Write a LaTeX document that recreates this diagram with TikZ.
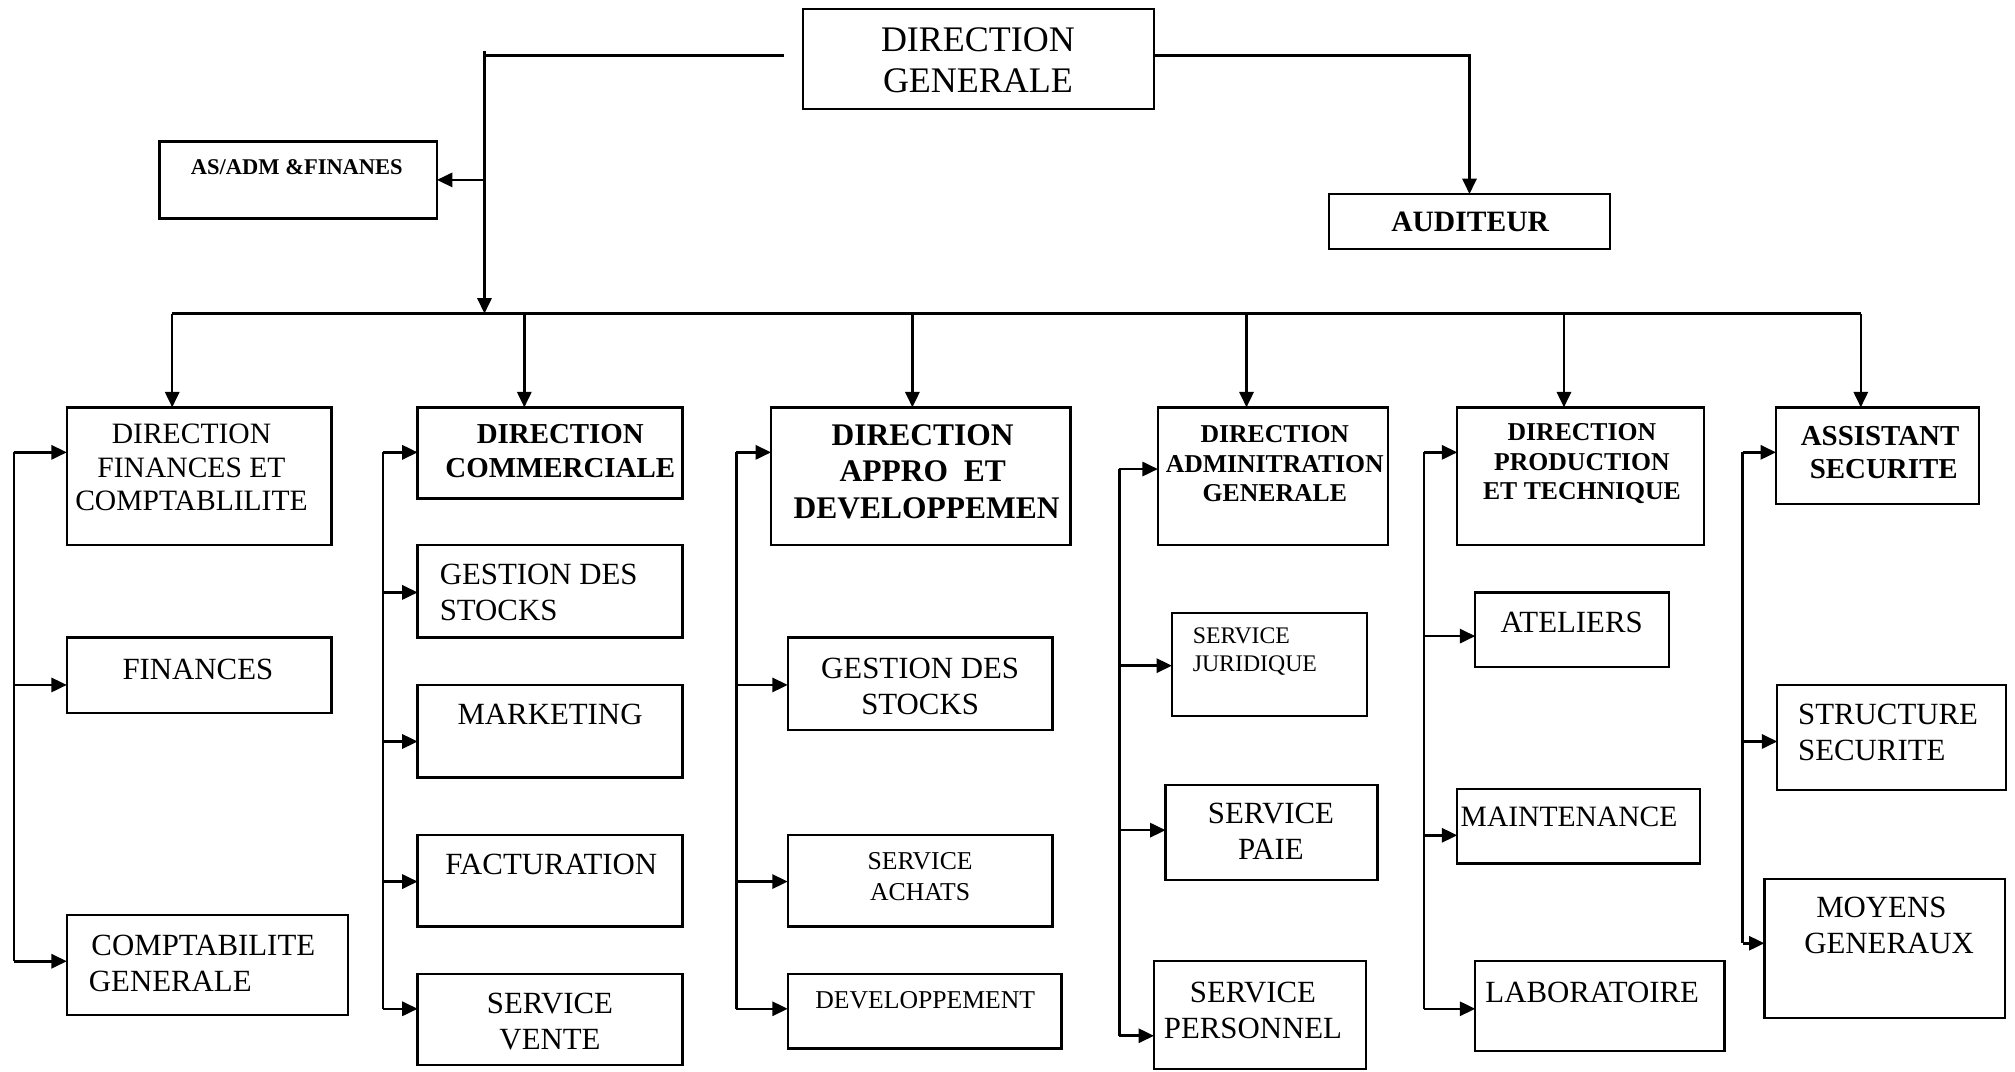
\documentclass[tikz,border=0pt]{standalone}
\usepackage{fontspec}
\setmainfont{Liberation Serif}
\usetikzlibrary{arrows.meta}

% rectangle node given by its top-left and bottom-right corners
\newcommand{\orgbox}[5]{%
  \node[box, minimum width={(#4-#2)*1pt}, minimum height={(#5-#3)*1pt},
        anchor=north west] (#1) at (#2,#3) {};}

\begin{document}
\begin{tikzpicture}[x=1pt,y=-1pt,
  box/.style={draw, line width=1.8pt, inner sep=0pt, outer sep=0pt},
  ln/.style={line width=2pt},
  arr/.style={line width=2pt, -{Triangle[length=12pt,width=11pt]}},
  txt/.style={inner sep=0pt, align=center},
  ltxt/.style={inner sep=0pt, align=left, anchor=west},
  r28/.style={font=\fontsize{28}{32}\selectfont},
  r24/.style={font=\fontsize{24}{28}\selectfont},
  r23/.style={font=\fontsize{23}{26}\selectfont},
  r20/.style={font=\fontsize{20}{24}\selectfont},
  r18/.style={font=\fontsize{18.5}{22}\selectfont},
  b17/.style={font=\fontsize{17.5}{20}\selectfont\bfseries},
  b20/.style={font=\fontsize{20}{23}\selectfont\bfseries},
  b22/.style={font=\fontsize{22.5}{26}\selectfont\bfseries},
  b23/.style={font=\fontsize{23}{26}\selectfont\bfseries},
  b24/.style={font=\fontsize{24.5}{28.5}\selectfont\bfseries},
]
\useasboundingbox (0,0) rectangle (1568,834);
\fill[white] (0,0) rectangle (1568,834);

% ---------- boxes ----------
\orgbox{dg}{625}{7}{898}{85}
\orgbox{asadm}{124}{110}{340}{170}
\orgbox{aud}{1034}{151}{1253}{194}

\orgbox{c1a}{52}{317}{258}{424}
\orgbox{c1b}{52}{496}{258}{555}
\orgbox{c1c}{52}{712}{271}{790}

\orgbox{c2a}{325}{317}{531}{388}
\orgbox{c2b}{325}{424}{531}{496}
\orgbox{c2c}{325}{533}{531}{605}
\orgbox{c2d}{325}{650}{531}{721}
\orgbox{c2e}{325}{758}{531}{829}

\orgbox{c3a}{600}{317}{833}{424}
\orgbox{c3b}{613}{496}{819}{568}
\orgbox{c3c}{613}{650}{819}{721}
\orgbox{c3d}{613}{758}{826}{816}

\orgbox{c4a}{901}{317}{1080}{424}
\orgbox{c4b}{912}{477}{1064}{557}
\orgbox{c4c}{907}{611}{1072}{685}
\orgbox{c4d}{898}{748}{1063}{832}

\orgbox{c5a}{1134}{317}{1326}{424}
\orgbox{c5b}{1148}{461}{1299}{519}
\orgbox{c5c}{1134}{614}{1323}{672}
\orgbox{c5d}{1148}{748}{1342}{818}

\orgbox{c6a}{1382}{317}{1540}{392}
\orgbox{c6b}{1383}{533}{1561}{615}
\orgbox{c6c}{1373}{684}{1560}{792}

% ---------- texts ----------
\node[txt,r28] (dgT) at (761,47) {DIRECTION\\GENERALE};
\node[txt,b17] (asadmT) at (231,130) {AS/ADM \&FINANES};
\node[txt,b23] (audT) at (1144,173) {AUDITEUR};

\node[txt,r23] (c1aT) at (149,364) {DIRECTION\\FINANCES ET\\COMPTABLILITE};
\node[txt,r24] (c1bT) at (154,521) {FINANCES};
\node[ltxt,r24] (c1cT) at (69,750) {\hspace{2pt}COMPTABILITE\\GENERALE};

\node[txt,b22] (c2aT) at (436,351) {DIRECTION\\COMMERCIALE};
\node[ltxt,r24] (c2bT) at (342,461) {GESTION DES\\STOCKS};
\node[txt,r24] (c2cT) at (428,556) {MARKETING};
\node[txt,r24] (c2dT) at (429,673) {FACTURATION};
\node[txt,r24] (c2eT) at (428,795) {SERVICE\\VENTE};

\node[txt,b24] (c3aT) at (718,367) {DIRECTION\\APPRO\ \ ET\\\ DEVELOPPEMEN};
\node[txt,r24] (c3bT) at (716,534) {GESTION DES\\STOCKS};
\node[txt,r20] (c3cT) at (716,682) {SERVICE\\ACHATS};
\node[txt,r20] (c3dT) at (720,778) {DEVELOPPEMENT};

\node[txt,b20] (c4aT) at (992,361) {DIRECTION\\ADMINITRATION\\GENERALE};
\node[ltxt,r18] (c4bT) at (928,507) {SERVICE\\JURIDIQUE};
\node[txt,r24] (c4cT) at (989,647) {SERVICE\\PAIE};
\node[txt,r24] (c4dT) at (975,786) {SERVICE\\PERSONNEL};

\node[txt,b20] (c5aT) at (1231,361) {DIRECTION\\PRODUCTION\\ET TECHNIQUE};
\node[txt,r24] (c5bT) at (1223,484) {ATELIERS};
\node[txt,r23] (c5cT) at (1221,636) {MAINTENANCE};
\node[txt,r24] (c5dT) at (1239,772) {LABORATOIRE};

\node[txt,b22] (c6aT) at (1463,352) {ASSISTANT\\\ SECURITE};
\node[ltxt,r24] (c6bT) at (1399,570) {STRUCTURE\\SECURITE};
\node[txt,r24] (c6cT) at (1464,720) {MOYENS\\\ \ GENERAUX};

% ---------- top connectors ----------
\coordinate (tl)  at (377,40);
\coordinate (dgl) at (610,43);
\coordinate (busL) at (134,244);
\coordinate (busR) at (1448,244);

\draw[ln] (dgl) -- (dgl -| tl);
\draw[arr] (tl) -- (tl |- busL);
\draw[arr] (asadm.east -| tl) -- (asadm.east);
\draw[arr] (dg.east |- dgl) -| (aud.north);

% ---------- horizontal bus and drops ----------
\draw[ln] (busL) -- (busR);
\coordinate (d1) at (134,244);
\coordinate (d2) at (408,244);
\coordinate (d3) at (710,244);
\coordinate (d4) at (970,244);
\coordinate (d5) at (1217,244);
\coordinate (d6) at (1448,244);
\draw[arr] (d1) -- (d1 |- c1a.north);
\draw[arr] (d2) -- (d2 |- c2a.north);
\draw[arr] (d3) -- (d3 |- c3a.north);
\draw[arr] (d4) -- (d4 |- c4a.north);
\draw[arr] (d5) -- (d5 |- c5a.north);
\draw[arr] (d6) -- (d6 |- c6a.north);

% ---------- column 1 ----------
\coordinate (b1a) at (11,352);
\coordinate (b1b) at (11,533);
\coordinate (b1c) at (11,748);
\draw[ln] (b1a) -- (b1c);
\draw[arr] (b1a) -- (b1a -| c1a.west);
\draw[arr] (b1b) -- (b1b -| c1b.west);
\draw[arr] (b1c) -- (b1c -| c1c.west);

% ---------- column 2 ----------
\coordinate (b2a) at (298,352);
\coordinate (b2b) at (298,461);
\coordinate (b2c) at (298,577);
\coordinate (b2d) at (298,686);
\coordinate (b2e) at (298,785);
\draw[ln] (b2a) -- (b2e);
\draw[arr] (b2a) -- (b2a -| c2a.west);
\draw[arr] (b2b) -- (b2b -| c2b.west);
\draw[arr] (b2c) -- (b2c -| c2c.west);
\draw[arr] (b2d) -- (b2d -| c2d.west);
\draw[arr] (b2e) -- (b2e -| c2e.west);

% ---------- column 3 ----------
\coordinate (b3a) at (573,352);
\coordinate (b3b) at (573,533);
\coordinate (b3c) at (573,686);
\coordinate (b3d) at (573,785);
\draw[ln] (b3a) -- (b3d);
\draw[arr] (b3a) -- (b3a -| c3a.west);
\draw[arr] (b3b) -- (b3b -| c3b.west);
\draw[arr] (b3c) -- (b3c -| c3c.west);
\draw[arr] (b3d) -- (b3d -| c3d.west);

% ---------- column 4 ----------
\coordinate (b4a) at (871,365);
\coordinate (b4b) at (871,518);
\coordinate (b4c) at (871,646);
\coordinate (b4d) at (871,806);
\draw[ln] (b4a) -- (b4d);
\draw[arr] (b4a) -- (b4a -| c4a.west);
\draw[arr] (b4b) -- (b4b -| c4b.west);
\draw[arr] (b4c) -- (b4c -| c4c.west);
\draw[arr] (b4d) -- (b4d -| c4d.west);

% ---------- column 5 ----------
\coordinate (b5a) at (1108,352);
\coordinate (b5b) at (1108,495);
\coordinate (b5c) at (1108,650);
\coordinate (b5d) at (1108,785);
\draw[ln] (b5a) -- (b5d);
\draw[arr] (b5a) -- (b5a -| c5a.west);
\draw[arr] (b5b) -- (b5b -| c5b.west);
\draw[arr] (b5c) -- (b5c -| c5c.west);
\draw[arr] (b5d) -- (b5d -| c5d.west);

% ---------- column 6 ----------
\coordinate (b6a) at (1356,352);
\coordinate (b6b) at (1356,577);
\coordinate (b6c) at (1356,734);
\draw[ln] (b6a) -- (b6c);
\draw[arr] (b6a) -- (b6a -| c6a.west);
\draw[arr] (b6b) -- (b6b -| c6b.west);
\draw[arr] (b6c) -- (b6c -| c6c.west);
\end{tikzpicture}
\end{document}
